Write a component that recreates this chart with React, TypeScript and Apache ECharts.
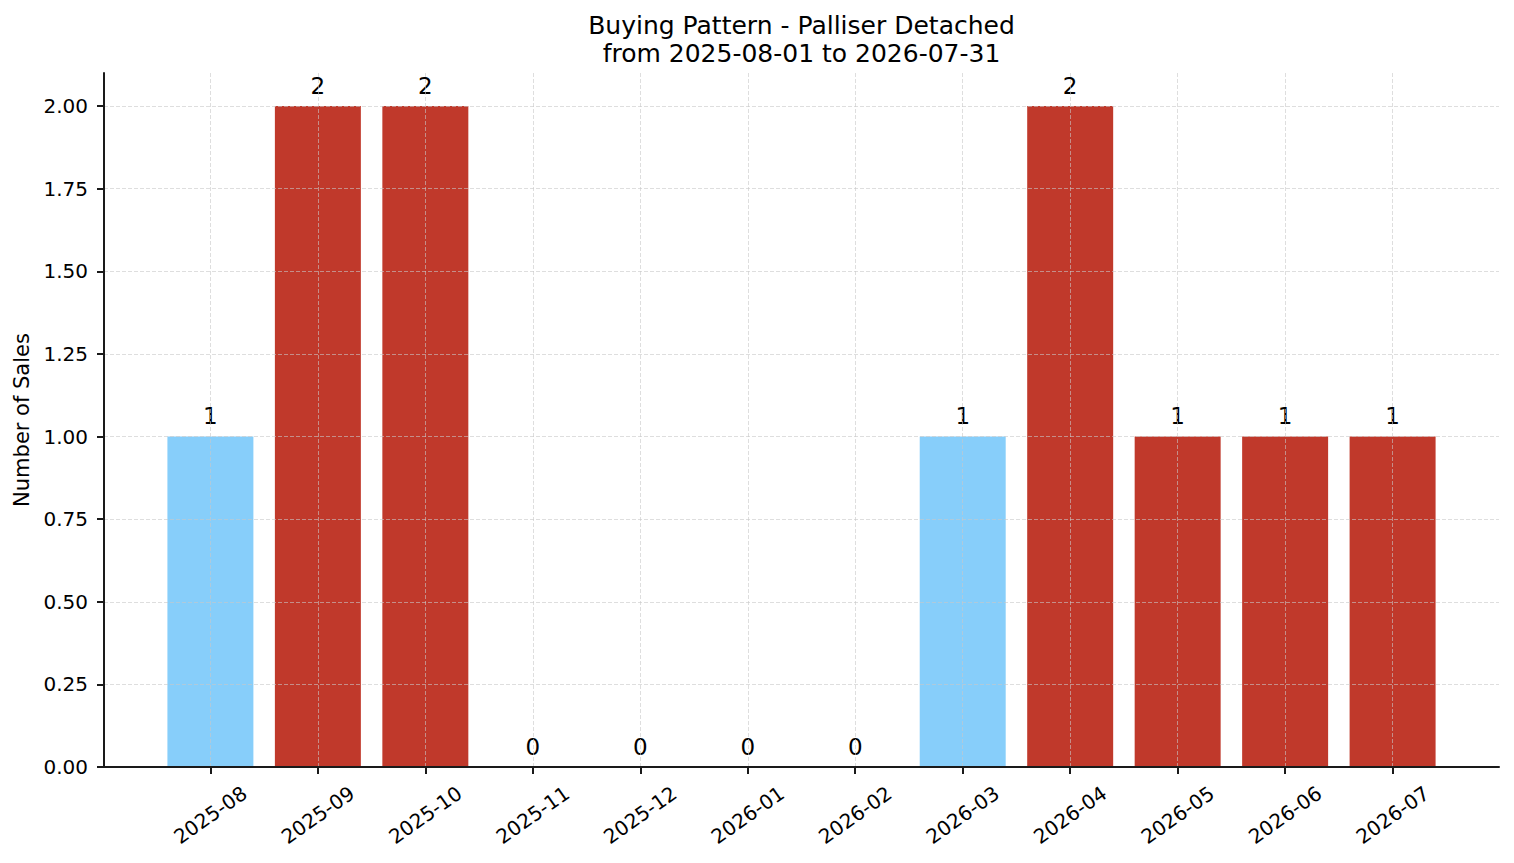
import React, { useEffect, useRef } from "react";
import * as echarts from "echarts";

const titleLines = ["Buying Pattern - Palliser Detached", "from 2025-08-01 to 2026-07-31"];
const yAxisName = "Number of Sales";
const categories = [
  "2025-08", "2025-09", "2025-10", "2025-11", "2025-12", "2026-01",
  "2026-02", "2026-03", "2026-04", "2026-05", "2026-06", "2026-07",
];
const sales = [1, 2, 2, 0, 0, 0, 0, 1, 2, 1, 1, 1];
const BLUE = "#87CEFA";
const RED = "#C0392B";
const barColors = [BLUE, RED, RED, RED, RED, RED, RED, BLUE, RED, RED, RED, RED];
const yMax = 2;
const yTop = 2.1;
const yStep = 0.25;

const FONT = "DejaVu Sans";
const W = 1514;
const H = 863;

export default function App() {
  const ref = useRef<HTMLDivElement>(null);
  useEffect(() => {
    document.body.style.margin = "0";
    if (!ref.current) return;
    const chart = echarts.init(ref.current, null, { renderer: "svg" });

    // layout (pixels)
    const axL = 104, axR = 1499, axT = 73, axB = 767;
    const axW = axR - axL;
    const axH = axB - axT;
    const n = categories.length;
    const lo = -0.4 - 0.05 * (n - 1 + 0.8);
    const hi = n - 1 + 0.4 + 0.05 * (n - 1 + 0.8);
    const unit = axW / (hi - lo);
    const innerH = axH * (yMax / yTop);
    const innerT = axB - innerH;
    const gridLine = { color: "rgba(200,200,200,0.6)", width: 1, type: [4, 2] as any };
    const spine = { color: "#1a1a1a", width: 2 };

    const option: any = {
      animation: false,
      backgroundColor: "#fff",
      textStyle: { fontFamily: FONT },
      grid: [
        // spines
        { left: axL, top: axT, width: axW, height: axH },
        // y ticks / labels / horizontal grid
        { left: axL, top: innerT, width: axW, height: innerH },
        // bars
        { left: axL + (-0.5 - lo) * unit, top: innerT, width: n * unit, height: innerH },
        // vertical grid
        { left: axL + (0 - lo) * unit, top: axT, width: (n - 1) * unit, height: axH },
      ],
      xAxis: [
        {
          gridIndex: 0, type: "value", min: 0, max: 1, z: 4,
          axisLine: { show: true, lineStyle: spine },
          axisTick: { show: false }, axisLabel: { show: false }, splitLine: { show: false },
        },
        { gridIndex: 1, type: "value", min: 0, max: 1, show: false },
        {
          gridIndex: 2, type: "category", data: categories, boundaryGap: true,
          axisLine: { show: false },
          axisTick: { show: true, alignWithLabel: true, length: 7, lineStyle: spine },
          axisLabel: {
            rotate: 35, align: "center", verticalAlign: "middle", margin: 48,
            fontSize: 20, color: "#000", fontFamily: FONT, interval: 0,
          },
          splitLine: { show: false },
        },
        {
          gridIndex: 3, type: "category", data: categories, boundaryGap: false, z: 3,
          axisLine: { show: false }, axisTick: { show: false }, axisLabel: { show: false },
          splitLine: { show: true, lineStyle: gridLine },
        },
      ],
      yAxis: [
        {
          gridIndex: 0, type: "value", min: 0, max: 1, z: 4,
          axisLine: { show: true, lineStyle: spine },
          axisTick: { show: false }, axisLabel: { show: false }, splitLine: { show: false },
        },
        {
          gridIndex: 1, type: "value", min: 0, max: yMax, interval: yStep, z: 3,
          axisLine: { show: false },
          axisTick: { show: true, length: 7, lineStyle: spine },
          axisLabel: {
            fontSize: 20, color: "#000", fontFamily: FONT, margin: 16,
            formatter: (v: number) => v.toFixed(2),
          },
          splitLine: { show: true, lineStyle: gridLine },
        },
        { gridIndex: 2, type: "value", min: 0, max: yMax, show: false },
        { gridIndex: 3, type: "value", min: 0, max: 1, show: false },
      ],
      series: [
        {
          type: "bar",
          xAxisIndex: 2,
          yAxisIndex: 2,
          barWidth: 0.8 * unit,
          data: sales.map((v, i) => ({ value: v, itemStyle: { color: barColors[i] } })),
          label: {
            show: true, position: "top", distance: 9,
            fontSize: 23, color: "#000", fontFamily: FONT,
          },
        },
      ],
      graphic: [
        {
          type: "text", x: (axL + axR) / 2, y: 25,
          style: { text: titleLines[0], align: "center", verticalAlign: "middle", fontSize: 25, fontFamily: FONT, fill: "#000" },
        },
        {
          type: "text", x: (axL + axR) / 2, y: 53,
          style: { text: titleLines[1], align: "center", verticalAlign: "middle", fontSize: 25, fontFamily: FONT, fill: "#000" },
        },
        {
          type: "text", x: 22, y: (axT + axB) / 2, rotation: Math.PI / 2,
          style: { text: yAxisName, align: "center", verticalAlign: "middle", fontSize: 21, fontFamily: FONT, fill: "#000" },
        },
      ],
    };
    chart.setOption(option);
    return () => chart.dispose();
  }, []);
  return <div ref={ref} style={{ width: W, height: H }} />;
}
